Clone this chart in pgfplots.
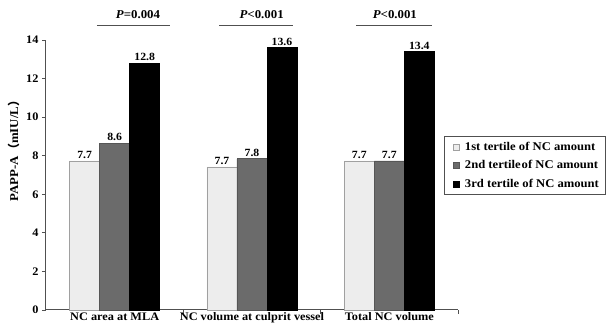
\documentclass[border=0pt]{standalone}
\usepackage{fontspec}
\setmainfont{Liberation Serif}[FakeStretch=1.07]
\newfontfamily\cjk{Noto Sans CJK SC}
\usepackage{pgfplots}
\pgfplotsset{compat=1.18}
\definecolor{lightbar}{HTML}{EDEDED}
\definecolor{lightedge}{HTML}{A0A0A0}
\definecolor{graybar}{HTML}{6B6B6B}
\definecolor{axisgray}{HTML}{505050}
\pgfplotstableread{
x y lab
0 7.73 7.7
1 7.42 7.7
2 7.73 7.7
}\first
\pgfplotstableread{
x y lab
0 8.65 8.6
1 7.84 7.8
2 7.73 7.7
}\second
\pgfplotstableread{
x y lab
0 12.8 12.8
1 13.6 13.6
2 13.4 13.4
}\third
\begin{document}
\begin{tikzpicture}
\path (-46pt,-21pt) rectangle (564pt,310pt);
\begin{axis}[
  at={(0pt,0pt)}, anchor=south west,
  scale only axis, width=412pt, height=270pt,
  xmin=-0.5, xmax=2.5, ymin=0, ymax=14,
  clip=false,
  axis x line*=bottom, axis y line*=left,
  axis line style={draw=axisgray, line width=1pt},
  every tick/.style={draw=axisgray, line width=0.8pt},
  tick align=outside, major tick length=4pt,
  ytick={0,2,...,14},
  xtick={0.5,1.5,2.5}, xticklabels={},
  extra x ticks={0,1,2},
  extra x tick labels={NC area at MLA, NC volume at culprit vessel, Total NC volume},
  extra x tick style={major tick length=0pt},
  /pgf/number format/assume math mode=true,
  tick label style={font=\bfseries\fontsize{11.5}{13}\selectfont},
  xticklabel style={yshift=1pt},
  ylabel={PAPP-A{\cjk （}mIU/L{\cjk ）}},
  ylabel style={font=\bfseries\fontsize{12}{14}\selectfont, at={(ticklabel cs:0.6)}, yshift=0pt},
  ybar=0pt, bar width=30pt,
  nodes near coords, point meta=explicit symbolic,
  nodes near coords style={font=\bfseries\fontsize{11}{13}\selectfont, inner sep=2pt, text=black},
  legend style={at={(rel axis cs:0.966,0.535)}, anchor=west, draw=axisgray, line width=0.8pt,
    font=\bfseries\fontsize{11.8}{14}\selectfont, row sep=5pt, inner xsep=4pt, inner ysep=3pt},
  legend cell align=left,
  legend image code/.code={\path (0pt,0pt) (14pt,0pt); \draw[#1, line width=0.4pt] (5pt,-3pt) rectangle (11pt,3pt);},
]
\addplot[fill=lightbar, draw=lightedge, line width=0.6pt] table[x=x,y=y,meta=lab]{\first};
\addplot[fill=graybar, draw=graybar!80!black, line width=0.6pt] table[x=x,y=y,meta=lab]{\second};
\addplot[fill=black, draw=black, line width=0.6pt] table[x=x,y=y,meta=lab]{\third};
\legend{1st tertile of NC amount, 2nd tertile\hspace{1pt}of NC amount, 3rd tertile of NC amount}
\draw[axisgray, line width=1.2pt] (axis cs:-0.13,14.77) -- (axis cs:0.40,14.77);
\draw[axisgray, line width=1.2pt] (axis cs:0.76,14.77) -- (axis cs:1.30,14.77);
\draw[axisgray, line width=1.2pt] (axis cs:1.76,14.77) -- (axis cs:2.31,14.77);
\node[font=\bfseries\fontsize{12}{14}\selectfont] at (axis cs:0.17,15.3) {\textit{P}=0.004};
\node[font=\bfseries\fontsize{12}{14}\selectfont] at (axis cs:1.07,15.3) {\textit{P}<0.001};
\node[font=\bfseries\fontsize{12}{14}\selectfont] at (axis cs:2.04,15.3) {\textit{P}<0.001};
\end{axis}
\end{tikzpicture}
\end{document}
